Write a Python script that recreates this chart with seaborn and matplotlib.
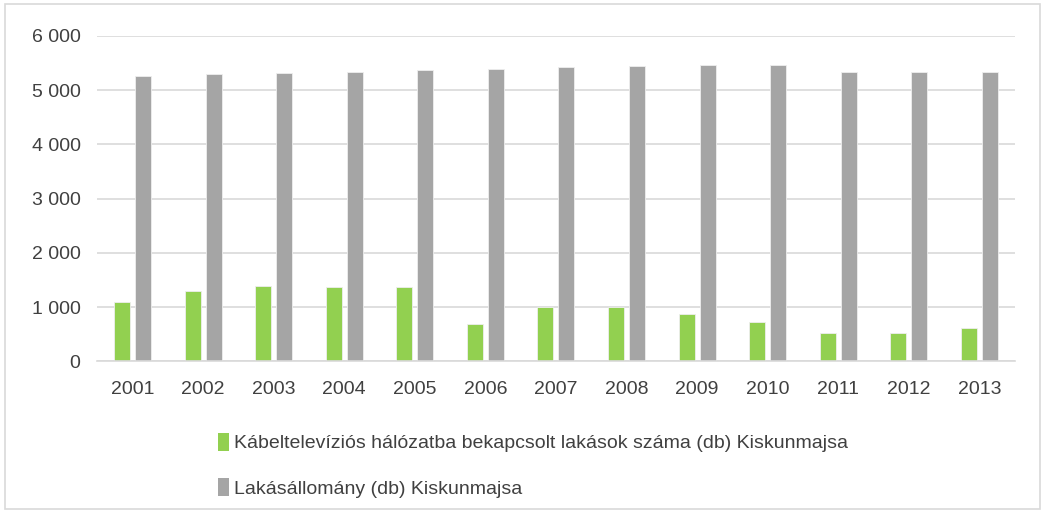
import matplotlib
matplotlib.use("Agg")
import matplotlib.pyplot as plt
import matplotlib.ticker as mticker
from matplotlib.patches import Patch, Rectangle
import pandas as pd
import seaborn as sns

years = ["2001", "2002", "2003", "2004", "2005", "2006", "2007",
         "2008", "2009", "2010", "2011", "2012", "2013"]
cable_tv = [1087, 1295, 1387, 1375, 1375, 687, 1000, 1000, 878, 724, 516, 521, 614]
dwellings = [5251, 5288, 5307, 5331, 5362, 5386, 5417, 5441, 5454, 5466, 5325, 5331, 5331]
series_names = ["Kábeltelevíziós hálózatba bekapcsolt lakások száma (db) Kiskunmajsa",
                "Lakásállomány (db) Kiskunmajsa"]
colors = ["#92D050", "#A5A5A5"]

df = pd.DataFrame({
    "year": years * 2,
    "value": cable_tv + dwellings,
    "series": [series_names[0]] * len(years) + [series_names[1]] * len(years),
})

sns.set_theme(style="white")
plt.rcParams["font.family"] = ["Liberation Sans", "DejaVu Sans"]

fig = plt.figure(figsize=(10.45, 5.13), dpi=100)
ax = fig.add_axes([0.093, 0.2957, 0.878, 0.6346])

sns.barplot(data=df, x="year", y="value", hue="series", palette=colors,
            saturation=1, width=0.595, gap=0.236, ax=ax, legend=False,
            edgecolor="#EEEEEE", linewidth=0.6)

ax.set_ylim(0, 6000)
ax.set_xlim(-0.5, len(years) - 0.5)
ax.yaxis.set_major_locator(mticker.MultipleLocator(1000))
ax.yaxis.set_major_formatter(mticker.FuncFormatter(
    lambda v, p: f"{int(v):,}".replace(",", " ")))
ax.grid(axis="y", color="#D9D9D9", linewidth=1.2)
ax.set_axisbelow(True)
for s in ["top", "right", "left"]:
    ax.spines[s].set_visible(False)
ax.spines["bottom"].set_color("#D9D9D9")
ax.spines["bottom"].set_linewidth(1.2)
ax.set_xlabel("")
ax.set_ylabel("")
ax.tick_params(axis="both", length=0, labelsize=14, colors="#404040")
ax.tick_params(axis="x", pad=14)
ax.tick_params(axis="y", pad=12)

handles = [Patch(facecolor=c, edgecolor="none") for c in colors]
fig.legend(handles, series_names, loc="upper left",
           bbox_to_anchor=(0.201, 0.172), frameon=False, fontsize=14,
           handlelength=0.55, handleheight=1.05, handletextpad=0.3,
           labelspacing=1.35, labelcolor="#404040", borderaxespad=0)

fig.patches.append(Rectangle((0.005, 0.008), 0.99, 0.984, transform=fig.transFigure,
                             fill=False, edgecolor="#D9D9D9", linewidth=1.2))

fig.savefig("out.png", dpi=100)
